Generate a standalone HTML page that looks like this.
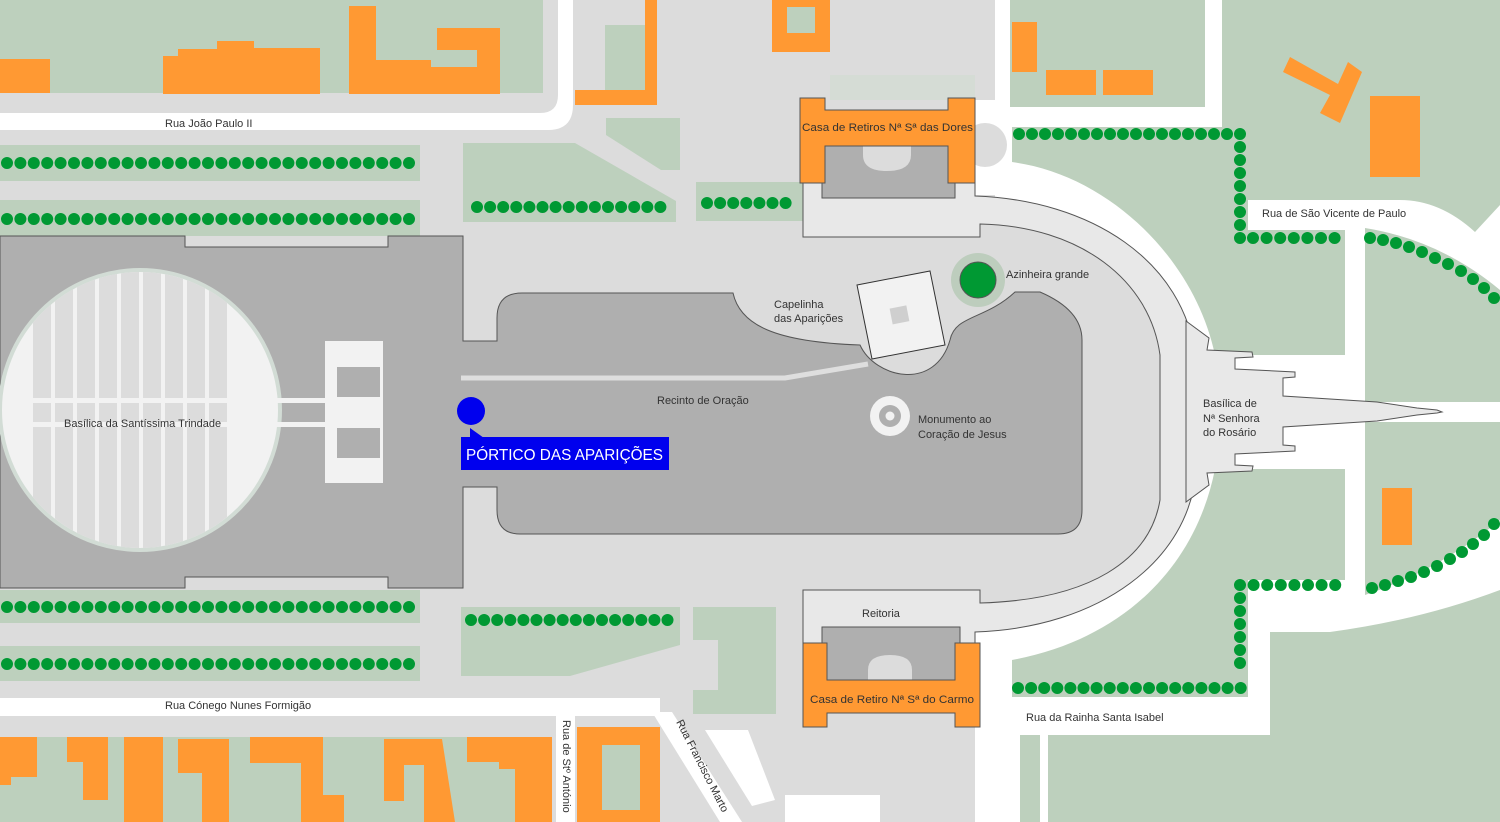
<!DOCTYPE html>
<html><head><meta charset="utf-8"><style>
html,body{margin:0;padding:0;background:#dcdcdc;}
svg{display:block;}
text{font-family:"Liberation Sans",sans-serif;font-size:11px;fill:#333;}
.d{stroke:#009933;stroke-width:12;stroke-linecap:round;fill:none;}
</style></head><body>
<svg width="1500" height="822" viewBox="0 0 1500 822" xmlns="http://www.w3.org/2000/svg">
<defs>
<clipPath id="cc"><circle cx="140" cy="410" r="138"/></clipPath>
</defs>
<rect width="1500" height="822" fill="#dcdcdc"/>
<!-- right white region -->
<rect x="995" y="0" width="505" height="822" fill="#fff"/>
<rect x="975" y="100" width="30" height="95" fill="#fff"/>
<rect x="975" y="630" width="30" height="192" fill="#fff"/>
<circle cx="985" cy="145" r="22" fill="#dcdcdc"/>
<!-- top-left -->
<rect x="0" y="0" width="543" height="93" fill="#bdd0bd"/>
<path d="M0,113 H540 Q558,113 558,95 V0 H573 V105 Q573,130 548,130 H0 Z" fill="#fff"/>
<rect x="0" y="59" width="50" height="34" fill="#ff9933"/>
<polygon points="163,94 163,56 178,56 178,49 217,49 217,41 254,41 254,48 320,48 320,94" fill="#ff9933"/>
<polygon points="349,6 376,6 376,60 431,60 431,67 477,67 477,50 437,50 437,28 500,28 500,94 349,94" fill="#ff9933"/>
<rect x="605" y="25" width="40" height="65" fill="#bdd0bd"/>
<polygon points="645,0 657,0 657,105 575,105 575,90 645,90" fill="#ff9933"/>
<rect x="772" y="0" width="58" height="52" fill="#ff9933"/>
<rect x="787" y="7" width="28" height="26" fill="#bdd0bd"/>
<rect x="830" y="75" width="145" height="25" fill="#d5dcd5"/>
<!-- left green strips -->
<rect x="0" y="145" width="420" height="36" fill="#bdd0bd"/>
<rect x="0" y="200" width="420" height="36" fill="#bdd0bd"/>
<rect x="0" y="590" width="420" height="33" fill="#bdd0bd"/>
<rect x="0" y="646" width="420" height="35" fill="#bdd0bd"/>
<!-- mid greens -->
<polygon points="463,143 575,143 676,201 676,222 463,222" fill="#bdd0bd"/>
<polygon points="606,118 680,118 680,170 661,170 606,135" fill="#bdd0bd"/>
<rect x="696" y="182" width="114" height="39" fill="#bdd0bd"/>
<polygon points="461,607 680,607 680,645 570,676 461,676" fill="#bdd0bd"/>
<polygon points="693,607 776,607 776,714 693,714 693,690 718,690 718,640 693,640" fill="#bdd0bd"/>
<!-- bottom left -->
<rect x="0" y="698" width="660" height="18" fill="#fff"/>
<rect x="0" y="737" width="552" height="85" fill="#bdd0bd"/>
<rect x="556" y="712" width="19" height="110" fill="#fff"/>
<polygon points="652,712 672,712 742,822 720,822" fill="#fff"/>
<polygon points="705,730 748,730 775,800 752,806" fill="#fff"/>
<rect x="785" y="795" width="95" height="27" fill="#fff"/>
<polygon points="0,737 37,737 37,777 11,777 11,785 0,785" fill="#ff9933"/>
<polygon points="67,737 108,737 108,800 83,800 83,762 67,762" fill="#ff9933"/>
<rect x="124" y="737" width="39" height="85" fill="#ff9933"/>
<polygon points="178,739 229,739 229,822 202,822 202,773 178,773" fill="#ff9933"/>
<polygon points="250,737 323,737 323,795 344,795 344,822 301,822 301,763 250,763" fill="#ff9933"/>
<polygon points="384,739 442,739 455,822 424,822 424,765 404,765 404,801 384,801" fill="#ff9933"/>
<polygon points="467,737 552,737 552,822 515,822 515,769 499,769 499,762 467,762" fill="#ff9933"/>
<rect x="577" y="727" width="83" height="95" fill="#ff9933"/>
<rect x="602" y="745" width="38" height="65" fill="#bdd0bd"/>
<!-- right greens -->
<rect x="1010" y="0" width="195" height="107" fill="#bdd0bd"/>
<rect x="1012" y="22" width="25" height="50" fill="#ff9933"/>
<rect x="1046" y="70" width="50" height="25" fill="#ff9933"/>
<rect x="1103" y="70" width="50" height="25" fill="#ff9933"/>
<path d="M1222,0 H1500 V205 L1475,232 Q1440,200 1400,200 H1222 Z" fill="#bdd0bd"/>
<polygon points="1290,57 1338,84 1348,62 1362,72 1340,123 1320,113 1330,95 1283,72" fill="#ff9933"/>
<rect x="1370" y="96" width="50" height="81" fill="#ff9933"/>
<path d="M1012,127 H1248 V230 H1345 V355 H1215 C1195,260 1110,175 1012,162 Z" fill="#bdd0bd"/>
<path d="M1365,228 Q1440,240 1500,290 V402 H1365 Z" fill="#bdd0bd"/>
<path d="M1365,422 H1500 V520 Q1440,570 1365,595 Z" fill="#bdd0bd"/>
<rect x="1382" y="488" width="30" height="57" fill="#ff9933"/>
<path d="M1215,469 H1345 V580 H1248 V697 H1012 V660 C1120,640 1195,570 1215,469 Z" fill="#bdd0bd"/>
<rect x="1020" y="735" width="20" height="87" fill="#bdd0bd"/>
<path d="M1048,735 H1270 V632 H1330 Q1420,620 1500,590 V822 H1048 Z" fill="#bdd0bd"/>
<!-- inner gray region -->
<path d="M975,224 H980 C1080,226 1150,280 1160,355 V500 C1150,560 1090,600 980,603 H975 Z" fill="#dcdcdc"/>
<!-- light band -->
<path d="M803,183 H975 V196 C1090,200 1185,260 1196,360 V470 C1190,560 1100,628 975,632 V643 H803 V590 H980 V603 C1090,600 1150,560 1160,500 V355 C1150,280 1080,226 980,224 V237 H803 Z" fill="#e8e8e8" stroke="#555" stroke-width="1"/>
<!-- big building + recinto -->
<path d="M0,236 H185 V247 H388 V236 H463 V341 H497 V318 Q497,293 522,293 H733 C740,325 775,342 860,345 C875,378 935,392 950,340 C955,315 985,320 1015,292 H1040 Q1082,310 1082,340 V510 Q1082,534 1058,534 H520 Q497,534 497,510 V487 H463 V588 H388 V577 H185 V588 H0 Z" fill="#afafaf" stroke="#555" stroke-width="1"/>
<!-- Trindade circle -->
<circle cx="140" cy="410" r="140" fill="#f2f2f2" stroke="#d2dcd5" stroke-width="4"/>
<g clip-path="url(#cc)" fill="#dcdcdc">
<rect x="33" y="260" width="18" height="300"/><rect x="55" y="260" width="18" height="300"/><rect x="77" y="260" width="18" height="300"/><rect x="99" y="260" width="18" height="300"/><rect x="121" y="260" width="18" height="300"/><rect x="143" y="260" width="18" height="300"/><rect x="165" y="260" width="18" height="300"/><rect x="187" y="260" width="18" height="300"/><rect x="209" y="260" width="18" height="300"/>
</g>
<rect x="30" y="398" width="295" height="5" fill="#f2f2f2"/>
<rect x="30" y="422" width="295" height="5" fill="#f2f2f2"/>
<rect x="325" y="341" width="58" height="142" fill="#f2f2f2"/>
<rect x="337" y="367" width="43" height="30" fill="#afafaf"/>
<rect x="337" y="428" width="43" height="30" fill="#afafaf"/>
<!-- walkway -->
<polyline points="461,378 785,378 868,364" fill="none" stroke="#dedede" stroke-width="5"/>
<!-- capelinha -->
<polygon points="857,285 930,271 945,345 872,359" fill="#f2f2f2" stroke="#333" stroke-width="1"/>
<rect x="891" y="307" width="17" height="16" fill="#cfcfcf" transform="rotate(-11 899 315)"/>
<!-- azinheira -->
<circle cx="978" cy="280" r="27" fill="#bdcdbd"/>
<circle cx="978" cy="280" r="18" fill="#009933" stroke="#555" stroke-width="1"/>
<!-- monumento -->
<circle cx="890" cy="416" r="20" fill="#f2f2f2"/>
<circle cx="890" cy="416" r="11" fill="#afafaf"/>
<circle cx="890" cy="416" r="4.5" fill="#f2f2f2"/>
<!-- casa dores -->
<rect x="822" y="146" width="133" height="52" fill="#afafaf" stroke="#555"/>
<path d="M863,146 V155 Q863,171 887,171 Q911,171 911,155 V146 Z" fill="#dcdcdc"/>
<polygon points="800,98 825,98 825,110 948,110 948,98 975,98 975,183 948,183 948,146 825,146 825,183 800,183" fill="#ff9933" stroke="#555"/>
<!-- reitoria -->
<rect x="822" y="627" width="138" height="55" fill="#afafaf" stroke="#555"/>
<path d="M868,680 V670 Q868,655 890,655 Q912,655 912,670 V680 Z" fill="#dcdcdc"/>
<polygon points="803,643 827,643 827,680 955,680 955,643 980,643 980,727 955,727 955,713 827,713 827,727 803,727" fill="#ff9933" stroke="#555"/>
<!-- basilica rosario -->
<polygon points="1186,321 1209,338 1207,350 1252,352 1253,357 1235,358 1235,369 1295,372 1295,377 1283,378 1283,396 1377,402 1417,408 1437,410 1442,412 1437,413 1417,415 1377,421 1283,427 1283,445 1295,446 1295,451 1235,454 1235,465 1253,466 1252,471 1207,473 1209,485 1186,502" fill="#e8e8e8" stroke="#555" stroke-width="1"/>
<!-- dots -->
<line class="d" x1="7" y1="163" x2="410" y2="163" stroke-dasharray="0 13.4"/>
<line class="d" x1="7" y1="219" x2="410" y2="219" stroke-dasharray="0 13.4"/>
<line class="d" x1="7" y1="607" x2="410" y2="607" stroke-dasharray="0 13.4"/>
<line class="d" x1="7" y1="664" x2="410" y2="664" stroke-dasharray="0 13.4"/>
<line class="d" x1="477" y1="207" x2="661" y2="207" stroke-dasharray="0 13.1"/>
<line class="d" x1="707" y1="203" x2="787" y2="203" stroke-dasharray="0 13.1"/>
<line class="d" x1="471" y1="620" x2="670" y2="620" stroke-dasharray="0 13.1"/>
<line class="d" x1="1019" y1="134" x2="1241" y2="134" stroke-dasharray="0 13"/>
<line class="d" x1="1240" y1="147" x2="1240" y2="239" stroke-dasharray="0 13"/>
<line class="d" x1="1253" y1="238" x2="1336" y2="238" stroke-dasharray="0 13.6"/>
<line class="d" x1="1240" y1="585" x2="1336" y2="585" stroke-dasharray="0 13.6"/>
<line class="d" x1="1240" y1="598" x2="1240" y2="676" stroke-dasharray="0 13"/>
<line class="d" x1="1018" y1="688" x2="1241" y2="688" stroke-dasharray="0 13.1"/>
<g fill="#009933">
<circle cx="1370" cy="238" r="6"/><circle cx="1383" cy="240" r="6"/><circle cx="1396" cy="243" r="6"/><circle cx="1409" cy="247" r="6"/><circle cx="1422" cy="252" r="6"/><circle cx="1435" cy="258" r="6"/><circle cx="1448" cy="264" r="6"/><circle cx="1461" cy="271" r="6"/><circle cx="1473" cy="279" r="6"/><circle cx="1484" cy="288" r="6"/><circle cx="1494" cy="298" r="6"/>
<circle cx="1372" cy="588" r="6"/><circle cx="1385" cy="585" r="6"/><circle cx="1398" cy="581" r="6"/><circle cx="1411" cy="577" r="6"/><circle cx="1424" cy="572" r="6"/><circle cx="1437" cy="566" r="6"/><circle cx="1450" cy="559" r="6"/><circle cx="1462" cy="552" r="6"/><circle cx="1473" cy="544" r="6"/><circle cx="1484" cy="535" r="6"/><circle cx="1494" cy="524" r="6"/>
</g>
<!-- portico -->
<circle cx="471" cy="411" r="14" fill="#0000ee"/>
<polygon points="470,428 470,438 484,438" fill="#0000ee"/>
<rect x="461" y="437" width="208" height="33" fill="#0000ee"/>
<text x="466" y="460" textLength="197" lengthAdjust="spacingAndGlyphs" style="font-size:16px;fill:#fff">PÓRTICO DAS APARIÇÕES</text>
<!-- labels -->
<text x="165" y="127">Rua João Paulo II</text>
<text x="165" y="709">Rua Cónego Nunes Formigão</text>
<text x="64" y="427">Basílica da Santíssima Trindade</text>
<text x="657" y="404">Recinto de Oração</text>
<text x="774" y="308">Capelinha</text>
<text x="774" y="322">das Aparições</text>
<text x="1006" y="278">Azinheira grande</text>
<text x="918" y="423">Monumento ao</text>
<text x="918" y="438">Coração de Jesus</text>
<text x="802" y="131" textLength="171" lengthAdjust="spacingAndGlyphs">Casa de Retiros Nª Sª das Dores</text>
<text x="862" y="617">Reitoria</text>
<text x="810" y="703" textLength="164" lengthAdjust="spacingAndGlyphs">Casa de Retiro Nª Sª do Carmo</text>
<text x="1203" y="407">Basílica de</text>
<text x="1203" y="422">Nª Senhora</text>
<text x="1203" y="436">do Rosário</text>
<text x="1262" y="217">Rua de São Vicente de Paulo</text>
<text x="1026" y="721">Rua da Rainha Santa Isabel</text>
<text transform="translate(563,720) rotate(90)">Rua de Stº António</text>
<text transform="translate(676,722) rotate(63)">Rua Francisco Marto</text>
</svg>
</body></html>
